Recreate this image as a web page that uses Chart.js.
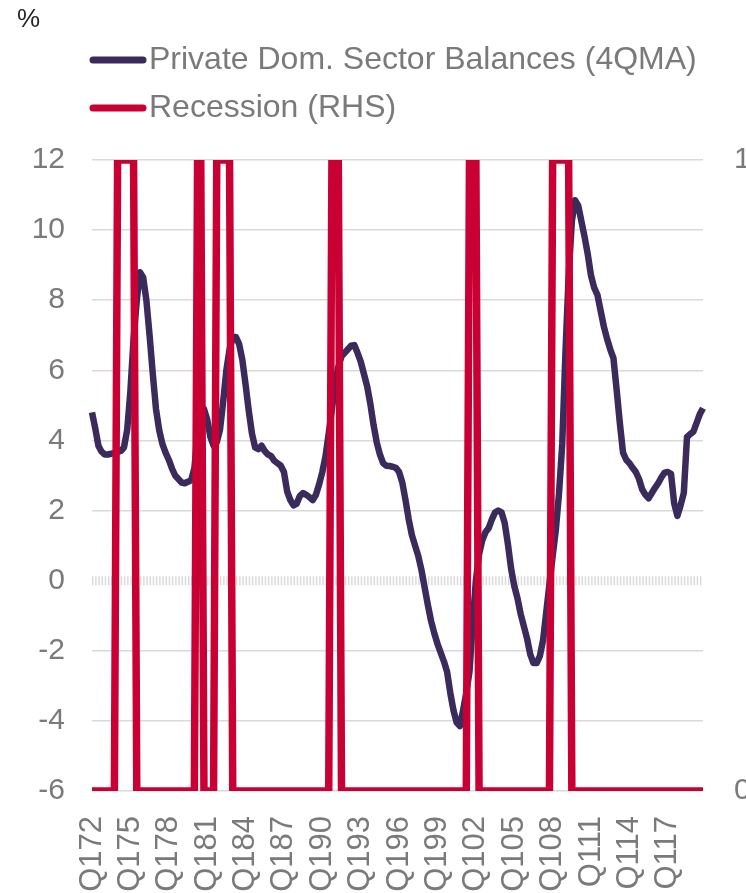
<!DOCTYPE html>
<html>
<head>
<meta charset="utf-8">
<script src="https://cdn.jsdelivr.net/npm/chart.js@4.4.1/dist/chart.umd.min.js"></script>
<style>
  html, body { margin: 0; padding: 0; background: #fff; }
  #wrap { position: relative; width: 746px; height: 893px; }
</style>
</head>
<body>
<div id="wrap"><canvas id="canvas1"></canvas></div>
<script>
// quarterly, Q1 1972 .. Q4 2019, one row per year
const balances70s = [
    4.8, 4.35, 3.85, 3.68,
    3.6, 3.6, 3.62, 3.65,
    3.67, 3.7, 3.8, 4.3,
    5.4, 6.9, 8.0, 8.8,
    8.65, 8.0, 7.0, 5.9,
    4.9, 4.3, 3.9, 3.65,
    3.45, 3.2, 3.0, 2.9,
    2.8, 2.78, 2.82, 2.87
];
const balances80s = [
    3.2, 4.2, 4.8, 4.9,
    4.6, 4.1, 3.85, 3.95,
    4.3, 5.1, 6.0, 6.6,
    6.95, 6.95, 6.75, 6.3,
    5.6, 4.85, 4.2, 3.8,
    3.75, 3.85, 3.7, 3.6,
    3.55, 3.42, 3.35, 3.28,
    3.1, 2.55, 2.3, 2.15,
    2.2, 2.42, 2.5, 2.45,
    2.38, 2.3, 2.45, 2.75
];
const balances90s = [
    3.1, 3.55, 4.2, 4.9,
    5.6, 6.1, 6.4, 6.5,
    6.6, 6.7, 6.72, 6.5,
    6.25, 5.9, 5.55, 5.05,
    4.45, 3.95, 3.6, 3.35,
    3.28, 3.27, 3.25, 3.22,
    3.1, 2.8, 2.3, 1.75,
    1.3, 1.0, 0.7, 0.3,
    -0.2, -0.7, -1.15, -1.5,
    -1.8, -2.05, -2.3, -2.6
];
const balances00s = [
    -3.2, -3.7, -4.05, -4.15,
    -3.7, -3.2, -2.6, -1.2,
    0.0, 0.75, 1.15, 1.38,
    1.5, 1.75, 1.95, 2.0,
    1.95, 1.65, 1.05, 0.35,
    -0.15, -0.5, -0.95, -1.3,
    -1.65, -2.1, -2.35, -2.35,
    -2.15, -1.7, -0.9, -0.1,
    0.7, 1.45, 2.5, 3.9,
    6.5, 8.7, 10.25, 10.85
];
const balances10s = [
    10.7, 10.25, 9.8, 9.3,
    8.7, 8.35, 8.15, 7.7,
    7.25, 6.9, 6.6, 6.35,
    5.45, 4.5, 3.65, 3.45,
    3.35, 3.22, 3.1, 2.9,
    2.6, 2.45, 2.35, 2.5,
    2.65, 2.78, 2.95, 3.08,
    3.1, 3.05, 2.2, 1.85,
    2.15, 2.5, 4.1, 4.18,
    4.25, 4.5, 4.75, 4.92
];

// 1 = recession quarter
const recession70s = [
    0, 0, 0, 0,
    0, 0, 0, 0,
    1, 1, 1, 1,
    1, 1, 0, 0,
    0, 0, 0, 0,
    0, 0, 0, 0,
    0, 0, 0, 0,
    0, 0, 0, 0
];
const recession80s = [
    0, 1, 1, 0,
    0, 0, 0, 1,
    1, 1, 1, 1,
    0, 0, 0, 0,
    0, 0, 0, 0,
    0, 0, 0, 0,
    0, 0, 0, 0,
    0, 0, 0, 0,
    0, 0, 0, 0,
    0, 0, 0, 0
];
const recession90s = [
    0, 0, 0, 1,
    1, 1, 0, 0,
    0, 0, 0, 0,
    0, 0, 0, 0,
    0, 0, 0, 0,
    0, 0, 0, 0,
    0, 0, 0, 0,
    0, 0, 0, 0,
    0, 0, 0, 0,
    0, 0, 0, 0
];
const recession00s = [
    0, 0, 0, 0,
    0, 0, 1, 1,
    1, 0, 0, 0,
    0, 0, 0, 0,
    0, 0, 0, 0,
    0, 0, 0, 0,
    0, 0, 0, 0,
    0, 0, 0, 0,
    1, 1, 1, 1,
    1, 1, 0, 0
];
const recession10s = [
    0, 0, 0, 0,
    0, 0, 0, 0,
    0, 0, 0, 0,
    0, 0, 0, 0,
    0, 0, 0, 0,
    0, 0, 0, 0,
    0, 0, 0, 0,
    0, 0, 0, 0,
    0, 0, 0, 0,
    0, 0, 0, 0
];

const tickLabels = ['Q172', 'Q175', 'Q178', 'Q181', 'Q184', 'Q187', 'Q190', 'Q193',
    'Q196', 'Q199', 'Q102', 'Q105', 'Q108', 'Q111', 'Q114', 'Q117'];

const quarters = [];
for (let year = 1972; year <= 2019; year++) {
    for (let q = 1; q <= 4; q++) {
        quarters.push('Q' + q + String(year).slice(2));
    }
}

const balances = [...balances70s, ...balances80s, ...balances90s, ...balances00s, ...balances10s];
const recession = [...recession70s, ...recession80s, ...recession90s, ...recession00s, ...recession10s];

const purple = '#3b2a5c';
const red = '#c90034';
const gridColor = '#d9d9d9';
const textGrey = '#7a7a7a';
const fontFamily = "'Liberation Sans', Arial, sans-serif";

// Excel style hatched axis line at zero
const zeroAxis = {
    id: 'zeroAxis',
    beforeDatasetsDraw(chart) {
        const { ctx, chartArea, scales } = chart;
        const y = scales.y.getPixelForValue(0);
        ctx.save();
        ctx.strokeStyle = gridColor;
        ctx.lineWidth = 9;
        ctx.setLineDash([1.4, 1.8]);
        ctx.beginPath();
        ctx.moveTo(chartArea.left, y);
        ctx.lineTo(chartArea.right, y);
        ctx.stroke();
        ctx.restore();
    }
};

// unit label and the two-row legend on the left
const legendBlock = {
    id: 'legendBlock',
    afterDraw(chart) {
        const ctx = chart.ctx;
        ctx.save();
        ctx.textBaseline = 'middle';
        ctx.fillStyle = '#262626';
        ctx.font = '26px ' + fontFamily;
        ctx.fillText('%', 17, 20);

        const rows = [
            { text: 'Private Dom. Sector Balances (4QMA)', color: purple, y: 60 },
            { text: 'Recession (RHS)', color: red, y: 108 }
        ];
        rows.forEach(row => {
            ctx.strokeStyle = row.color;
            ctx.lineWidth = 7;
            ctx.lineCap = 'round';
            ctx.beginPath();
            ctx.moveTo(93, row.y);
            ctx.lineTo(143, row.y);
            ctx.stroke();
            ctx.fillStyle = textGrey;
            ctx.font = '32px ' + fontFamily;
            ctx.fillText(row.text, 149, row.y);
        });
        ctx.restore();
    }
};

new Chart(document.getElementById('canvas1'), {
    type: 'line',
    data: {
        labels: quarters,
        datasets: [
            {
                label: 'Private Dom. Sector Balances (4QMA)',
                data: balances,
                yAxisID: 'y',
                borderColor: purple,
                backgroundColor: purple,
                borderWidth: 6.5,
                borderJoinStyle: 'round',
                pointRadius: 0,
                tension: 0,
                order: 2
            },
            {
                label: 'Recession (RHS)',
                data: recession,
                yAxisID: 'y2',
                borderColor: red,
                backgroundColor: red,
                borderWidth: 7.5,
                borderJoinStyle: 'miter',
                pointRadius: 0,
                tension: 0,
                order: 1
            }
        ]
    },
    options: {
        responsive: true,
        maintainAspectRatio: false,
        animation: false,
        layout: { padding: { top: 160 } },
        plugins: {
            legend: { display: false },
            tooltip: { enabled: false }
        },
        scales: {
            x: {
                offset: false,
                grid: { display: false },
                border: { display: false },
                afterFit: scale => {
                    scale.height = 102;
                    scale.paddingLeft = 0;
                    scale.paddingRight = 0;
                },
                ticks: {
                    autoSkip: false,
                    minRotation: 90,
                    maxRotation: 90,
                    padding: 17,
                    color: textGrey,
                    font: { family: fontFamily, size: 31 },
                    callback: function (value) {
                        const label = this.getLabelForValue(value);
                        return tickLabels.includes(label) ? label : '';
                    }
                }
            },
            y: {
                position: 'left',
                min: -6,
                max: 12,
                afterFit: scale => { scale.width = 92; },
                grid: {
                    drawTicks: false,
                    lineWidth: 1.5,
                    color: ctx => ctx.tick && ctx.tick.value === 0 ? 'rgba(0,0,0,0)' : gridColor
                },
                border: { display: false },
                ticks: {
                    stepSize: 2,
                    padding: 27,
                    color: textGrey,
                    font: { family: fontFamily, size: 30 }
                }
            },
            y2: {
                position: 'right',
                min: 0,
                max: 1,
                afterFit: scale => { scale.width = 43; },
                grid: { display: false, drawTicks: false },
                border: { display: false },
                ticks: {
                    stepSize: 1,
                    padding: 31,
                    color: textGrey,
                    font: { family: fontFamily, size: 30 }
                }
            }
        }
    },
    plugins: [zeroAxis, legendBlock]
});
</script>
</body>
</html>
